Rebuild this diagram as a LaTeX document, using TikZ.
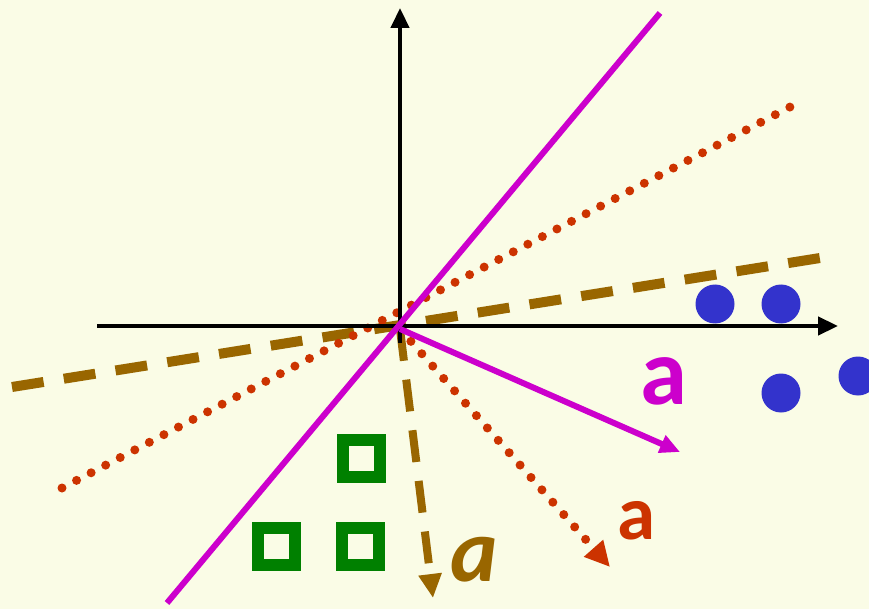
\documentclass[tikz,border=0pt]{standalone}
\usepackage{fontspec}
\setmainfont{Carlito}
\usetikzlibrary{arrows.meta}
\definecolor{bgyellow}{RGB}{250,252,230}
\definecolor{wmagenta}{RGB}{204,0,204}
\definecolor{wred}{RGB}{204,51,0}
\definecolor{wbrown}{RGB}{153,102,0}
\definecolor{cblue}{RGB}{51,51,204}
\definecolor{sgreen}{RGB}{0,128,0}
\tikzset{
  axis/.style={line width=4.5, -{Triangle[length=20,width=18]}},
  circ/.style={circle, fill=cblue, inner sep=0pt, minimum size=39},
  sq/.style={draw=sgreen, line width=12, inner sep=0pt, minimum size=37},
  lbl/.style={font=\bfseries\fontsize{95}{95}\selectfont}
}
\begin{document}
\begin{tikzpicture}[x=1pt, y=-1pt]
  \fill[bgyellow] (0,0) rectangle (869,609);
  \useasboundingbox (0,0) rectangle (869,609);
  % Points of reference
  \coordinate (O) at (400,329);
  \coordinate (xs) at (97,326);
  \coordinate (xe) at (838,326);
  \coordinate (ys) at (400,343);
  \coordinate (ye) at (400,8);
  % Brown dashed: line and weight
  \coordinate (b1) at (12,387);
  \coordinate (b2) at (820,258);
  \coordinate (bw) at (433,598);
  \draw[wbrown, line width=10, dash pattern=on 32 off 20.4] (b1) -- (b2);
  \draw[wbrown, line width=8, dash pattern=on 32 off 19,
        -{Triangle[length=24,width=22]}] (O) -- (bw);
  % Red dotted: line and weight
  \coordinate (r1) at (62,488);
  \coordinate (r2) at (790,107);
  \coordinate (rw) at (610,567);
  \draw[wred, line width=9, line cap=round, dash pattern=on 0 off 16.43] (r1) -- (r2);
  \draw[wred, line width=9, line cap=round, dash pattern=on 0 off 16.5,
        -{Triangle[length=25,width=24]}] (O) -- (rw);
  % Axes
  \draw[axis] (xs) -- (xe);
  \draw[axis] (ys) -- (ye);
  % Magenta solid: line and weight
  \coordinate (m1) at (167,603);
  \coordinate (m2) at (660,13);
  \coordinate (mw) at (680,452);
  \draw[wmagenta, line width=6] (m1) -- (m2);
  \draw[wmagenta, line width=6, -{Triangle[length=20,width=18]}] (O) -- (mw);
  % Labels
  \node[lbl, text=wmagenta] (lm) at (664,381) {a};
  \node[lbl, text=wred, font=\bfseries\fontsize{77}{77}\selectfont] (lr) at (636,521) {a};
  \node[text=wbrown, font=\bfseries\itshape\fontsize{90}{90}\selectfont] (lb) at (474,560) {a};
  % Class one
  \node[circ] (c1) at (715,304) {};
  \node[circ] (c2) at (781,304) {};
  \node[circ] (c3) at (781,393) {};
  \node[circ] (c4) at (858,376) {};
  % Class two
  \node[sq] (s1) at (361,458) {};
  \node[sq] (s2) at (276,546) {};
  \node[sq] (s3) at (360,546) {};
\end{tikzpicture}
\end{document}
